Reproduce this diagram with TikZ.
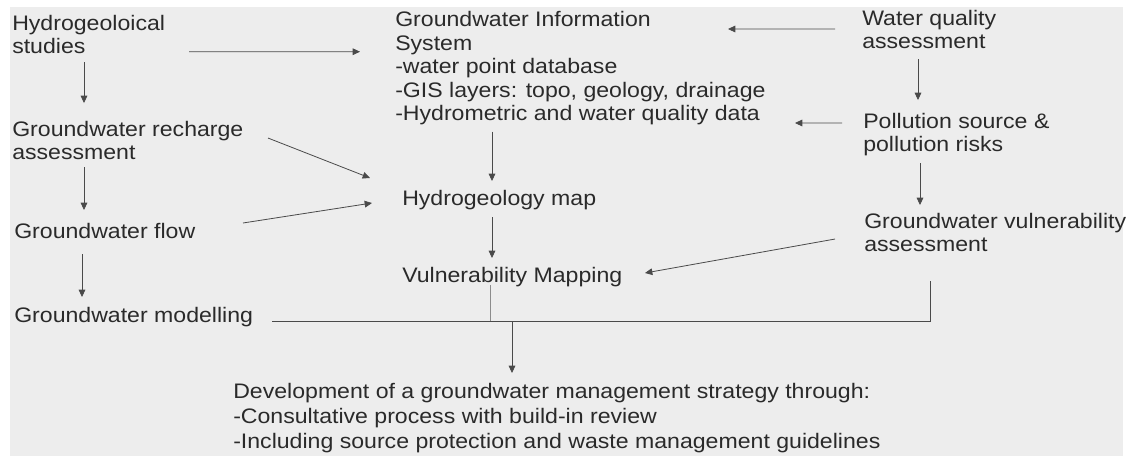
\documentclass[tikz,border=0pt]{standalone}
\usepackage{fontspec}
\setmainfont{Liberation Sans}[FakeStretch=1.1]
\usetikzlibrary{arrows.meta,calc}
\definecolor{bgc}{HTML}{EDEDED}
\definecolor{txt}{HTML}{2A2A2A}
\definecolor{ln}{HTML}{4A4A4A}
\definecolor{lnl}{HTML}{8C8C8C}
\begin{document}
\begin{tikzpicture}[x=0.75pt,y=-0.75pt,
  lbl/.style={anchor=base west,inner sep=0pt,align=left,text=txt,
    font=\fontsize{15.75}{17.6}\selectfont},
  lblb/.style={lbl,font=\fontsize{15.75}{18.75}\selectfont},
  arr/.style={draw=ln,line width=0.6pt,-{Triangle[length=5.5pt,width=5pt]}},
  conn/.style={draw=ln,line width=0.6pt},
  connl/.style={draw=lnl,line width=0.6pt}]
\useasboundingbox (0,0) rectangle (1133,457);
\fill[bgc] (10,7) rectangle (1123,456);

% base west = baseline of the last line of each text
\node[lbl] (hs) at (12,53.5) {Hydrogeoloical\\studies};
\node[lbl] (gis) at (395,120.6) {Groundwater Information\\System\\-water point database\\-GIS layers: topo, geology, drainage\\-Hydrometric and water quality data};
\node[lbl] (wq) at (862,48.5) {Water quality\\assessment};
\node[lbl] (rech) at (12,159.5) {Groundwater recharge\\assessment};
\node[lbl] (poll) at (863,151.5) {Pollution source \&\\pollution risks};
\node[lbl] (hmap) at (402,205) {Hydrogeology map};
\node[lbl] (flow) at (14,238) {Groundwater flow};
\node[lbl] (gv) at (864,251.5) {Groundwater vulnerability\\assessment};
\node[lbl] (vm) at (402,282) {Vulnerability Mapping};
\node[lbl] (model) at (14,322) {Groundwater modelling};
\node[lblb] (dev) at (233,448) {Development of a groundwater management strategy through:\\-Consultative process with build-in review\\-Including source protection and waste management guidelines};

% left column
\draw[arr] ($(hs.base west)+(177,-1.77)$) -- ($(gis.base west)+(-35,-68.9)$);
\draw[arr] ($(hs.base west)+(72,8.53)$) -- ($(rech.base west)+(72,-56.47)$);
\draw[arr] ($(rech.base west)+(72,7.53)$) -- ($(flow.base west)+(70,-28)$);
\draw[arr] ($(flow.base west)+(68,16)$) -- ($(model.base west)+(68,-25)$);
\draw[arr] ($(rech.base west)+(256,-21.47)$) -- ($(hmap.base west)+(-32,-27)$);
\draw[arr] ($(flow.base west)+(229,-15)$) -- ($(hmap.base west)+(-30,-2)$);
% centre column
\draw[arr] ($(gis.base west)+(97,11.1)$) -- ($(hmap.base west)+(90,-24)$);
\draw[arr] ($(hmap.base west)+(90,12)$) -- ($(vm.base west)+(90,-24)$);
% right column
\draw[arr] ($(wq.base west)+(-27,-19.47)$) -- ($(gis.base west)+(333,-91.6)$);
\draw[arr] ($(wq.base west)+(56,10.53)$) -- ($(poll.base west)+(55,-51.47)$);
\draw[arr] ($(poll.base west)+(-21,-28.47)$) -- ($(gis.base west)+(400,2.4)$);
\draw[arr] ($(poll.base west)+(57,11.53)$) -- ($(gv.base west)+(56,-46.47)$);
\draw[arr] ($(gv.base west)+(-29,-12.47)$) -- ($(vm.base west)+(243,-9)$);
% bottom collector
\coordinate (j) at ($(model.base west)+(498,-1)$);
\draw[conn] ($(model.base west)+(258,-1)$) -| ($(gv.base west)+(66,29.53)$);
\draw[connl] ($(vm.base west)+(88,3)$) -- ($(vm.base west)+(88,39)$);
\draw[arr] (j) -- ($(dev.base west)+(279,-75)$);
\end{tikzpicture}
\end{document}
